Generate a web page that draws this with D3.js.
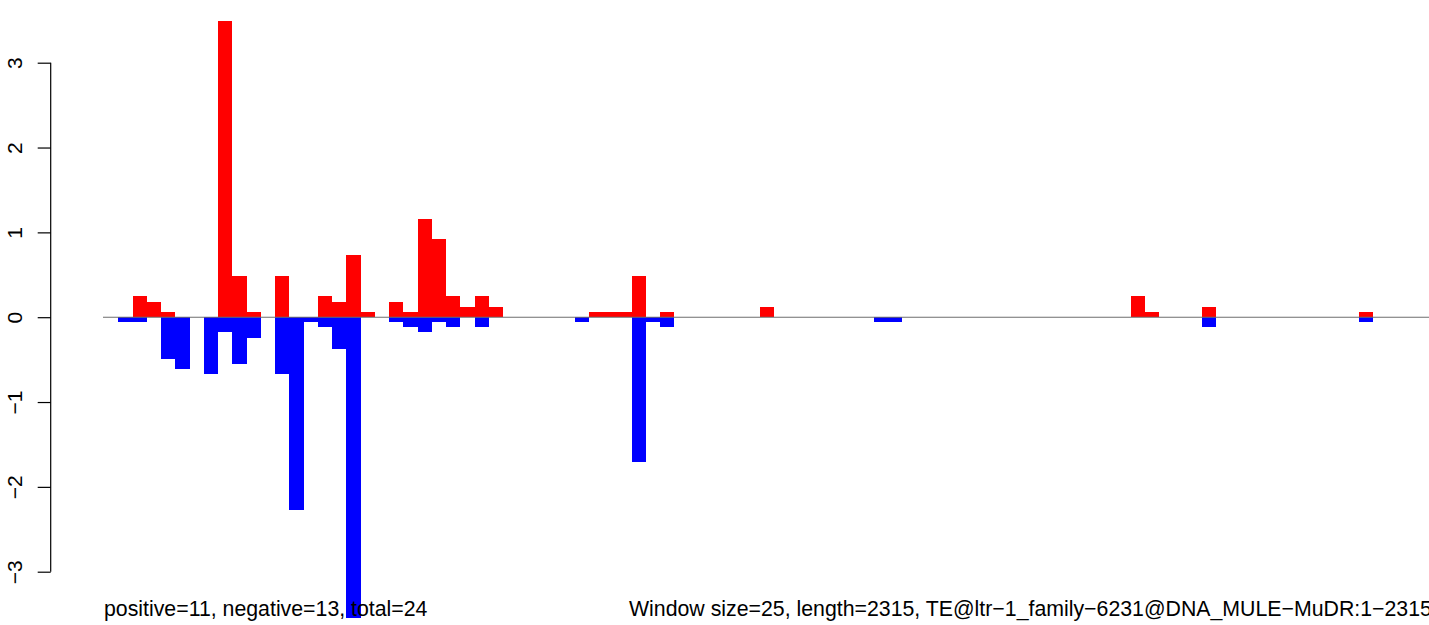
<!DOCTYPE html>
<html>
<head>
<meta charset="utf-8">
<script src="https://cdn.jsdelivr.net/npm/d3@7"></script>
<style>
  html, body { margin: 0; padding: 0; background: #fff; }
  svg { display: block; }
  text { font-family: "Liberation Sans", Arial, Helvetica, sans-serif; }
</style>
</head>
<body>
<svg id="chart" width="1429" height="625"></svg>
<script>
// ---- data ----
const nBins = 93;
const posBins = [2, 3, 4, 8, 9, 10, 12, 15, 16, 17, 18, 20, 21, 22, 23, 24, 25, 26, 27, 34, 35, 36, 37, 39, 46, 72, 73, 77, 88];
const posValues = [0.25, 0.18, 0.06, 3.49, 0.49, 0.06, 0.49, 0.25, 0.18, 0.73, 0.06, 0.18, 0.06, 1.16, 0.92, 0.25, 0.12, 0.25, 0.12, 0.06, 0.06, 0.06, 0.49, 0.06, 0.12, 0.25, 0.06, 0.12, 0.06];
const negBins = [1, 2, 4, 5, 7, 8, 9, 10, 12, 13, 14, 15, 16, 17, 20, 21, 22, 23, 24, 26, 33, 37, 38, 39, 54, 55, 77, 88];
const negValues = [-0.06, -0.06, -0.49, -0.61, -0.67, -0.18, -0.55, -0.25, -0.67, -2.27, -0.06, -0.12, -0.37, -3.55, -0.06, -0.12, -0.18, -0.06, -0.12, -0.12, -0.06, -1.71, -0.06, -0.12, -0.06, -0.06, -0.12, -0.06];
const yTicks = [-3, -2, -1, 0, 1, 2, 3];
const leftLabel = "positive=11, negative=13, total=24";
const rightLabel = "Window size=25, length=2315, TE@ltr\u22121_family\u22126231@DNA_MULE\u2212MuDR:1\u22122315";

// ---- scales ----
const svg = d3.select("#chart");
const bins = d3.range(nBins);
const x = d3.scaleBand().domain(bins).range([104, 1430]).padding(0);
const y = d3.scaleLinear().domain([-3, 3]).range([571.7, 62.7]);

const pos = posBins.map((b, i) => ({ bin: b, v: posValues[i] }));
const neg = negBins.map((b, i) => ({ bin: b, v: negValues[i] }));

// bars
svg.append("g").selectAll("rect").data(pos).join("rect")
  .attr("x", d => x(d.bin))
  .attr("width", x.bandwidth())
  .attr("y", d => y(d.v))
  .attr("height", d => y(0) - y(d.v))
  .attr("fill", "#ff0000")
  .attr("shape-rendering", "crispEdges");

svg.append("g").selectAll("rect").data(neg).join("rect")
  .attr("x", d => x(d.bin))
  .attr("width", x.bandwidth())
  .attr("y", y(0))
  .attr("height", d => y(d.v) - y(0))
  .attr("fill", "#0000ff")
  .attr("shape-rendering", "crispEdges");

// zero line
svg.append("line")
  .attr("x1", 103).attr("x2", 1429)
  .attr("y1", y(0)).attr("y2", y(0))
  .attr("stroke", "#6e6e6e").attr("stroke-width", 1.1);

// y axis (R style)
const axisG = svg.append("g").attr("transform", "translate(50.7,0)");
const yAxis = d3.axisLeft(y).tickValues(yTicks).tickSize(13).tickPadding(0)
  .tickFormat(d => d < 0 ? "\u2212" + Math.abs(d) : String(d));
axisG.call(yAxis);
axisG.select(".domain")
  .attr("d", `M0,${y(3)}V${y(-3)}`)
  .attr("stroke", "#000").attr("stroke-width", 1.2);
axisG.selectAll(".tick line").attr("stroke", "#000").attr("stroke-width", 1.2);
axisG.selectAll(".tick text")
  .attr("x", null).attr("dy", null)
  .attr("text-anchor", "middle")
  .attr("transform", "translate(-29,0) rotate(-90)")
  .attr("font-size", 21)
  .attr("font-family", "Liberation Sans, Arial, sans-serif")
  .attr("fill", "#000");

// bottom texts
svg.append("text")
  .attr("x", 104).attr("y", 616)
  .attr("font-size", 21.3)
  .attr("fill", "#000")
  .text(leftLabel);
svg.append("text")
  .attr("x", 629).attr("y", 616)
  .attr("font-size", 21.3)
  .attr("fill", "#000")
  .text(rightLabel);
</script>
</body>
</html>
